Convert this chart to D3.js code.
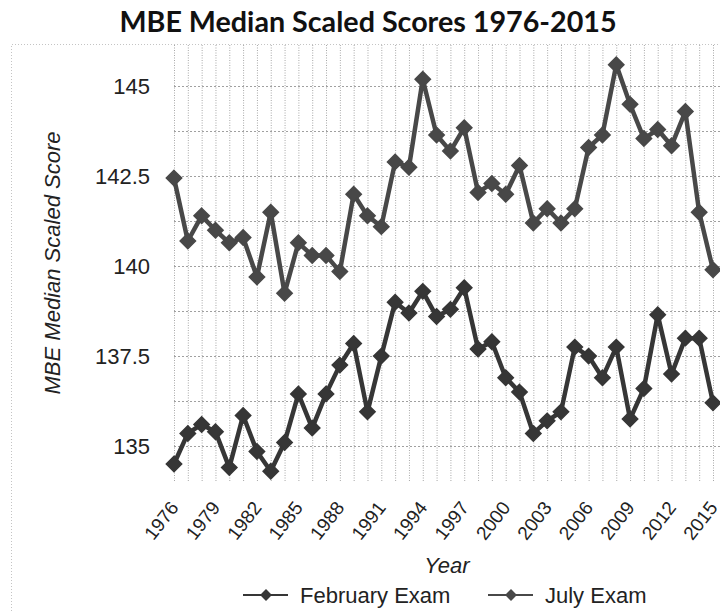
<!DOCTYPE html>
<html>
<head>
<meta charset="utf-8">
<script src="https://cdn.jsdelivr.net/npm/d3@7/dist/d3.min.js"></script>
<style>
	body { margin: 0; background: #fff; }
	svg { display: block; }
	.axis text { font-family: "Liberation Sans", Arial, sans-serif; fill: #222; }
</style>
</head>
<body>
<div id="chart"></div>
<script>
'use strict';

// MBE scores, one value per year
var years = d3.range(1976, 2016);
var tickYears = [1976, 1979, 1982, 1985, 1988, 1991, 1994, 1997, 2000, 2003, 2006, 2009, 2012, 2015];

var febScores = [
	134.5, 135.35, 135.6, 135.4, 134.4, 135.85, 134.85, 134.3, 135.1, 136.45,
	135.5, 136.45, 137.25, 137.85, 135.95, 137.5, 139.0, 138.7, 139.3, 138.6,
	138.8, 139.4, 137.7, 137.9, 136.9, 136.5, 135.35, 135.7, 135.95, 137.75,
	137.5, 136.9, 137.75, 135.75, 136.6, 138.65, 137.0, 138.0, 138.0, 136.2
];
var julyScores = [
	142.45, 140.7, 141.4, 141.0, 140.65, 140.8, 139.7, 141.5, 139.25, 140.65,
	140.3, 140.3, 139.85, 142.0, 141.4, 141.1, 142.9, 142.75, 145.2, 143.65,
	143.2, 143.85, 142.05, 142.3, 142.0, 142.8, 141.2, 141.6, 141.2, 141.6,
	143.3, 143.65, 145.6, 144.5, 143.55, 143.8, 143.35, 144.3, 141.5, 139.9
];

var yTicks = [135, 137.5, 140, 142.5, 145];
var yGrid = [135, 136.25, 137.5, 138.75, 140, 141.25, 142.5, 143.75, 145];

var seriesNames = ["February Exam", "July Exam"];
var seriesColors = ["#363636", "#484848"];

var W = 720, H = 611;
var plot = {left: 174, right: 713, top: 45, bottom: 482};

var svg = d3.select("#chart").append("svg")
	.attr("width", W)
	.attr("height", H);

var x = d3.scalePoint().domain(years).range([plot.left, plot.right]);
var y = d3.scaleLinear().domain([134, 146.15]).range([plot.bottom, plot.top]);

// outer dotted frame (only the left and top edges are inside the picture)
svg.append("path")
	.attr("d", "M11.5," + H + "V44.5H" + W)
	.attr("fill", "none")
	.attr("stroke", "#c4c4c4")
	.attr("stroke-dasharray", "1,2");

// grid
var grid = svg.append("g").attr("class", "grid");
grid.selectAll("line.v").data(years).enter().append("line")
	.attr("class", "v")
	.attr("x1", function(d) { return x(d) + 0.5; })
	.attr("x2", function(d) { return x(d) + 0.5; })
	.attr("y1", plot.top)
	.attr("y2", plot.bottom)
	.attr("stroke", "#a8a8a8")
	.attr("stroke-dasharray", "1,1.5");
grid.selectAll("line.h").data(yGrid).enter().append("line")
	.attr("class", "h")
	.attr("x1", plot.left)
	.attr("x2", W)
	.attr("y1", function(d) { return Math.round(y(d)) + 0.5; })
	.attr("y2", function(d) { return Math.round(y(d)) + 0.5; })
	.attr("stroke", "#a0a0a0")
	.attr("stroke-dasharray", "2,2");

// axes
var yAxis = svg.append("g")
	.attr("class", "axis")
	.attr("transform", "translate(150,0)")
	.call(d3.axisLeft(y).tickValues(yTicks).tickSize(0).tickPadding(0)
		.tickFormat(function(d) { return String(d); }));
yAxis.select(".domain").remove();
yAxis.selectAll("text").style("font-size", "22px");

var xAxis = svg.append("g")
	.attr("class", "axis")
	.attr("transform", "translate(0," + plot.bottom + ")")
	.call(d3.axisBottom(x).tickValues(tickYears).tickSize(0));
xAxis.select(".domain").remove();
xAxis.selectAll("text")
	.attr("x", 0).attr("y", 0).attr("dy", 0)
	.style("font-size", "19px")
	.style("text-anchor", "end")
	.attr("transform", "translate(5,26) rotate(-52)");

// axis titles
svg.append("text")
	.attr("transform", "translate(60,263) rotate(-90)")
	.attr("text-anchor", "middle")
	.style("font-family", "Liberation Sans, Arial, sans-serif")
	.style("font-style", "italic")
	.style("font-size", "22px")
	.attr("fill", "#222")
	.text("MBE Median Scaled Score");

svg.append("text")
	.attr("x", 447)
	.attr("y", 573)
	.attr("text-anchor", "middle")
	.style("font-family", "Liberation Sans, Arial, sans-serif")
	.style("font-style", "italic")
	.style("font-size", "22px")
	.attr("fill", "#222")
	.text("Year");

svg.append("text")
	.attr("x", 368)
	.attr("y", 32)
	.attr("text-anchor", "middle")
	.style("font-family", "Lato, 'Open Sans', sans-serif")
	.style("font-weight", "bold")
	.style("font-size", "28.7px")
	.attr("fill", "#111")
	.text("MBE Median Scaled Scores 1976-2015");

// series
var diamond = d3.symbol().type(d3.symbolDiamond2).size(150);
var line = d3.line()
	.x(function(d, i) { return x(years[i]); })
	.y(function(d) { return y(d); });

[febScores, julyScores].forEach(function(values, k) {
	var g = svg.append("g").attr("class", "series");
	g.append("path")
		.attr("d", line(values))
		.attr("fill", "none")
		.attr("stroke", seriesColors[k])
		.attr("stroke-width", 4.5)
		.attr("stroke-linejoin", "round");
	g.selectAll("path.pt").data(values).enter().append("path")
		.attr("class", "pt")
		.attr("d", diamond)
		.attr("transform", function(d, i) { return "translate(" + x(years[i]) + "," + y(d) + ")"; })
		.attr("fill", seriesColors[k])
		.attr("stroke", seriesColors[k])
		.attr("stroke-width", 1.5);
});

// legend
var legendX = [243, 488];
var legend = svg.append("g").attr("class", "legend");
seriesNames.forEach(function(name, k) {
	var lg = legend.append("g").attr("transform", "translate(" + legendX[k] + ",595)");
	lg.append("line")
		.attr("x1", 0).attr("x2", 45)
		.attr("stroke", seriesColors[k])
		.attr("stroke-width", 2);
	lg.append("path")
		.attr("d", d3.symbol().type(d3.symbolDiamond2).size(90))
		.attr("transform", "translate(23,0)")
		.attr("fill", seriesColors[k]);
	lg.append("text")
		.attr("x", 57)
		.attr("y", 8)
		.style("font-family", "Liberation Sans, Arial, sans-serif")
		.style("font-size", "22px")
		.attr("fill", "#222")
		.text(name);
});
</script>
</body>
</html>
